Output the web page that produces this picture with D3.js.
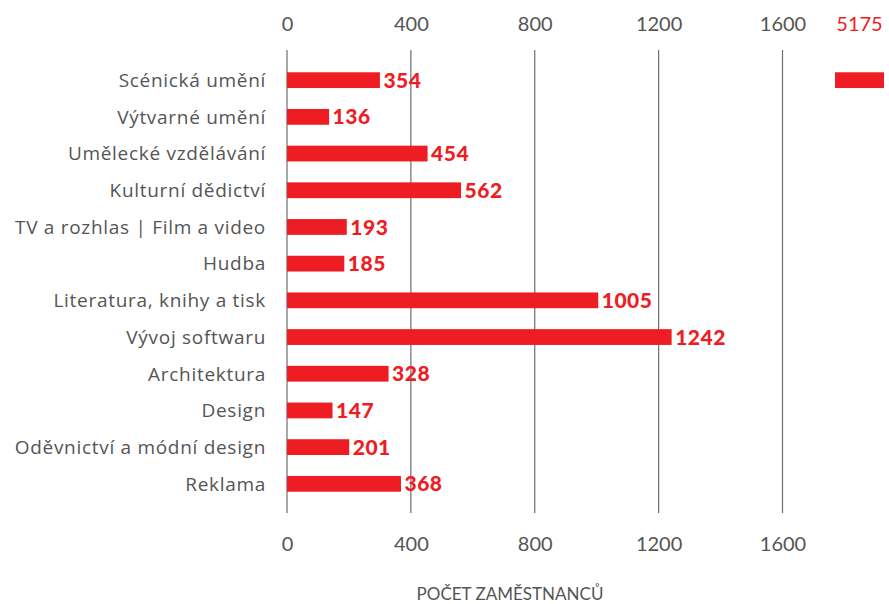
<!DOCTYPE html>
<html>
<head>
<meta charset="utf-8">
<script src="https://cdn.jsdelivr.net/npm/d3@7"></script>
<style>
  body { margin: 0; background: #fff; }
  svg { display: block; font-family: "Open Sans", Lato, sans-serif; }
</style>
</head>
<body>
<div id="chart"></div>
<script>
const categories = [
  "Scénická umění",
  "Výtvarné umění",
  "Umělecké vzdělávání",
  "Kulturní dědictví",
  "TV a rozhlas | Film a video",
  "Hudba",
  "Literatura, knihy a tisk",
  "Vývoj softwaru",
  "Architektura",
  "Design",
  "Oděvnictví a módní design",
  "Reklama"
];
// printed labels
const values = [354, 136, 454, 562, 193, 185, 1005, 1242, 328, 147, 201, 368];
// bar lengths as drawn in the source (first bar is drawn short of its label)
const barValues = [300, 136, 454, 562, 193, 185, 1005, 1242, 328, 147, 201, 368];
const tickValues = [0, 400, 800, 1200, 1600];
const axisTitle = "POČET ZAMĚSTNANCŮ";

const total = d3.sum(values);
const data = categories.map((name, i) => ({ name, value: values[i], bar: barValues[i] }));

const width = 889;
const height = 604;
const red = "#ee1d23";
const textGray = "#555";

const x = d3.scaleLinear().domain([0, 1600]).range([287, 782.5]);
const y = d3
  .scaleBand()
  .domain(categories)
  .range([62, 502])
  .paddingInner(0.57)
  .paddingOuter(0.28);
// compressed stub for the total, drawn past the broken axis
const xTotal = d3.scaleLinear().domain([0, total]).range([835, 884]);

const svg = d3
  .select("#chart")
  .append("svg")
  .attr("width", width)
  .attr("height", height);

// gridlines
svg
  .append("g")
  .selectAll("line")
  .data(tickValues)
  .join("line")
  .attr("x1", d => x(d))
  .attr("x2", d => x(d))
  .attr("y1", 50)
  .attr("y2", 513)
  .attr("stroke", "#6d6d6d")
  .attr("stroke-width", 1.2);

const fmt = d3.format("d");
const topAxis = d3.axisTop(x).tickValues(tickValues).tickFormat(fmt).tickSize(0).tickPadding(0);
const bottomAxis = d3.axisBottom(x).tickValues(tickValues).tickFormat(fmt).tickSize(0).tickPadding(0);

svg
  .append("g")
  .attr("transform", "translate(0,31)")
  .call(topAxis)
  .call(g => g.select(".domain").remove())
  .selectAll("text")
  .attr("dy", 0)
  .attr("font-size", 20)
  .attr("font-family", "Lato, sans-serif")
  .attr("fill", textGray);

svg
  .append("g")
  .attr("transform", "translate(0,551)")
  .call(bottomAxis)
  .call(g => g.select(".domain").remove())
  .selectAll("text")
  .attr("dy", 0)
  .attr("font-size", 20)
  .attr("font-family", "Lato, sans-serif")
  .attr("fill", textGray);

// category labels
svg
  .append("g")
  .selectAll("text")
  .data(data)
  .join("text")
  .attr("x", 266)
  .attr("y", d => y(d.name) + y.bandwidth() / 2)
  .attr("dy", "0.36em")
  .attr("text-anchor", "end")
  .attr("font-size", 19)
  .attr("letter-spacing", 0.7)
  .attr("fill", textGray)
  .text(d => d.name);

// bars
svg
  .append("g")
  .selectAll("rect")
  .data(data)
  .join("rect")
  .attr("x", x(0))
  .attr("y", d => y(d.name))
  .attr("width", d => x(d.bar) - x(0))
  .attr("height", y.bandwidth())
  .attr("fill", red);

// value labels
svg
  .append("g")
  .selectAll("text")
  .data(data)
  .join("text")
  .attr("x", d => x(d.bar) + 3.5)
  .attr("y", d => y(d.name) + y.bandwidth() / 2)
  .attr("dy", "0.36em")
  .attr("font-size", 21)
  .attr("font-weight", 900)
  .attr("font-family", "Lato, sans-serif")
  .attr("letter-spacing", 0.5)
  .attr("fill", red)
  .text(d => d.value);

// total stub
svg
  .append("rect")
  .attr("x", xTotal(0))
  .attr("y", y(categories[0]))
  .attr("width", xTotal(total) - xTotal(0))
  .attr("height", y.bandwidth())
  .attr("fill", red);

svg
  .append("text")
  .attr("x", xTotal(total / 2))
  .attr("y", 31)
  .attr("text-anchor", "middle")
  .attr("font-size", 20)
  .attr("font-family", "Lato, sans-serif")
  .attr("fill", red)
  .text(total);

svg
  .append("text")
  .attr("x", 510)
  .attr("y", 600)
  .attr("text-anchor", "middle")
  .attr("font-size", 17)
  .attr("font-family", "Lato, sans-serif")
  .attr("fill", textGray)
  .text(axisTitle);
</script>
</body>
</html>
